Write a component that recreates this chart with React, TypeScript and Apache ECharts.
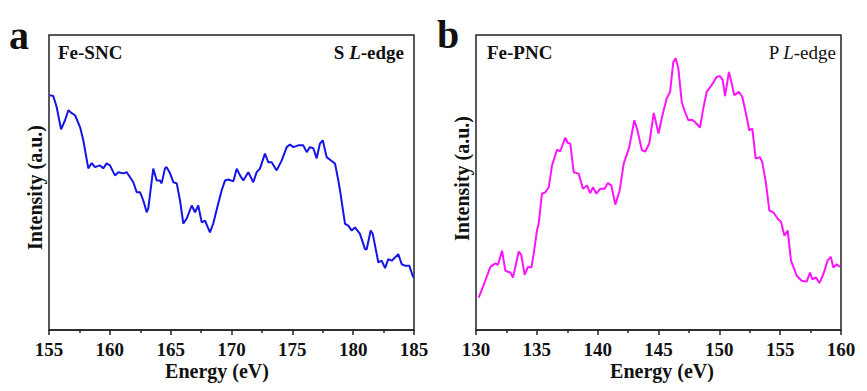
import React, { useEffect, useRef } from "react";
import * as echarts from "echarts";

// Panel a: Fe-SNC, S L-edge
const energyA = [155.08,155.35,155.63,155.99,156.32,156.59,156.87,157.14,157.55,157.82,158.23,158.51,158.78,159.19,159.46,159.74,160.01,160.42,160.70,161.11,161.39,161.66,161.93,162.21,162.48,162.75,163.03,163.16,163.57,163.85,164.12,164.26,164.53,164.67,164.95,165.22,165.50,165.77,166.04,166.32,166.73,167.00,167.27,167.55,167.82,168.23,168.50,168.91,169.19,169.47,169.74,170.15,170.43,170.70,170.97,171.38,171.79,172.07,172.34,172.75,173.02,173.30,173.71,174.13,174.54,174.81,175.08,175.49,175.90,176.18,176.45,176.72,177.00,177.27,177.50,177.82,178.10,178.51,178.78,178.92,179.33,179.60,179.88,180.15,180.56,180.97,181.11,181.44,181.61,182.07,182.34,182.62,182.89,183.17,183.71,183.99,184.26,184.61,184.94];
const intensityA = [79.6,79.3,75.6,68.0,71.1,74.5,73.5,72.8,68.8,64.3,54.8,56.6,55.2,55.8,54.8,56.5,55.8,52.4,53.5,53.1,53.5,51.8,50.1,46.7,46.7,43.9,39.9,41.2,54.7,50.7,50.7,49.7,54.8,55.2,53.1,50.1,49.7,43.9,36.1,37.8,42.2,39.9,42.2,36.5,37.1,33.1,36.1,42.9,47.3,50.7,51.0,50.4,54.7,52.4,50.7,53.5,50.1,53.5,54.7,59.8,56.9,56.9,54.1,57.5,62.0,62.9,62.0,62.6,62.6,60.3,62.0,61.6,58.2,63.2,64.3,58.6,57.7,56.4,50.7,47.3,36.0,35.4,33.7,34.8,32.6,27.4,27.4,33.7,32.6,22.9,23.5,21.0,24.0,23.5,25.7,22.3,21.8,21.8,17.8];

// Panel b: Fe-PNC, P L-edge
const energyB = [130.22,130.49,130.76,131.18,131.59,131.81,132.14,132.41,132.82,133.04,133.51,133.72,134.00,134.27,134.55,134.74,135.01,135.15,135.42,135.70,135.98,136.25,136.66,136.93,137.34,137.54,137.75,138.03,138.44,138.79,139.12,139.39,139.62,139.89,140.22,140.58,140.82,141.12,141.45,141.81,142.14,142.60,143.01,143.23,143.64,143.92,144.24,144.61,145.00,145.29,145.67,145.95,146.22,146.41,146.63,146.91,147.18,147.45,147.73,148.00,148.41,148.68,148.96,149.37,149.78,150.05,150.28,150.47,150.79,151.02,151.23,151.62,151.89,152.25,152.46,152.71,152.99,153.34,153.53,153.84,154.11,154.44,154.80,155.07,155.34,155.62,155.89,156.36,156.77,157.18,157.45,157.64,157.95,158.22,158.55,158.91,159.16,159.37,159.65,159.92];
const intensityB = [11.0,13.8,16.7,21.4,22.6,22.1,26.9,20.1,19.5,17.8,26.6,25.5,18.7,21.4,21.2,25.7,33.7,36.0,46.2,46.7,48.4,55.8,61.1,60.6,65.2,63.4,63.2,53.5,53.0,47.9,49.0,46.4,48.4,46.2,47.9,47.9,49.8,49.0,42.5,47.3,56.4,62.0,71.1,68.3,60.9,60.5,63.2,73.6,66.6,72.2,78.5,80.7,90.9,92.1,88.7,77.3,73.9,71.1,71.3,70.5,68.6,75.1,80.7,83.0,85.8,86.1,84.7,79.3,87.5,83.6,79.6,80.7,79.0,72.2,67.7,68.3,58.1,58.6,56.9,49.6,40.5,39.9,37.7,36.7,32.0,33.7,23.5,18.4,16.7,16.4,19.5,17.2,17.8,15.9,18.9,23.7,24.8,21.2,22.3,21.4];

const rangeA = [155, 185];
const rangeB = [130, 160];

const FONT = "Liberation Serif, Times New Roman, serif";
const FRAME = "#222";

export default function App() {
  const ref = useRef<HTMLDivElement>(null);
  useEffect(() => {
    document.body.style.margin = "0";
    const chart = echarts.init(ref.current!, null, { renderer: "svg" });
    const xAxisBase = (idx: number, range: number[]) => ({
      type: "value",
      gridIndex: idx,
      min: range[0],
      max: range[1],
      interval: 5,
      axisLine: { show: true, lineStyle: { color: FRAME, width: 1.5 } },
      axisTick: { show: true, length: 5, lineStyle: { color: FRAME, width: 1.5 } },
      minorTick: { show: true, splitNumber: 2, length: 3, lineStyle: { color: FRAME, width: 1.5 } },
      axisLabel: {
        margin: 10,
        fontFamily: FONT,
        fontWeight: "bold",
        fontSize: 19,
        color: "#111",
      },
      splitLine: { show: false },
    });
    const yAxisBase = (idx: number) => ({
      type: "value",
      gridIndex: idx,
      min: 0,
      max: 100,
      axisLine: { show: false },
      axisTick: { show: false },
      axisLabel: { show: false },
      splitLine: { show: false },
    });
    const textStyle = (extra: any) => ({
      fontFamily: FONT,
      fill: "#111",
      ...extra,
    });
    chart.setOption({
      animation: false,
      backgroundColor: "#fff",
      grid: [
        { left: 49, top: 35, width: 365, height: 295, show: true, borderColor: FRAME, borderWidth: 1.5 },
        { left: 476, top: 35, width: 365, height: 295, show: true, borderColor: FRAME, borderWidth: 1.5 },
      ],
      xAxis: [xAxisBase(0, rangeA), xAxisBase(1, rangeB)],
      yAxis: [yAxisBase(0), yAxisBase(1)],
      series: [
        {
          type: "line",
          xAxisIndex: 0,
          yAxisIndex: 0,
          data: energyA.map((x, i) => [x, intensityA[i]]),
          showSymbol: false,
          lineStyle: { color: "#1414e6", width: 2 },
        },
        {
          type: "line",
          xAxisIndex: 1,
          yAxisIndex: 1,
          data: energyB.map((x, i) => [x, intensityB[i]]),
          showSymbol: false,
          lineStyle: { color: "#ff14ff", width: 2 },
        },
      ],
      graphic: [
        { type: "text", x: 9, y: 35.5, style: textStyle({ text: "a", fontSize: 40, fontWeight: "bold", verticalAlign: "middle" }) },
        { type: "text", x: 437, y: 34.5, style: textStyle({ text: "b", fontSize: 40, fontWeight: "bold", verticalAlign: "middle" }) },
        { type: "text", x: 58, y: 52.5, style: textStyle({ text: "Fe-SNC", fontSize: 19, fontWeight: "bold", verticalAlign: "middle" }) },
        { type: "text", x: 487, y: 52, style: textStyle({ text: "Fe-PNC", fontSize: 19, fontWeight: "bold", verticalAlign: "middle" }) },
        {
          type: "text",
          x: 404,
          y: 52.5,
          style: textStyle({
            text: "{b|S }{bi|L}{b|-edge}",
            align: "right",
            verticalAlign: "middle",
            rich: {
              b: { fontFamily: FONT, fontSize: 19, fontWeight: "bold", color: "#111" },
              bi: { fontFamily: FONT, fontSize: 19, fontWeight: "bold", fontStyle: "italic", color: "#111" },
            },
          }),
        },
        {
          type: "text",
          x: 836,
          y: 52,
          style: textStyle({
            text: "{r|P }{i|L}{r|-edge}",
            align: "right",
            verticalAlign: "middle",
            rich: {
              r: { fontFamily: FONT, fontSize: 19, color: "#111" },
              i: { fontFamily: FONT, fontSize: 19, fontStyle: "italic", color: "#111" },
            },
          }),
        },
        { type: "text", x: 217, y: 371, style: textStyle({ text: "Energy (eV)", fontSize: 20, fontWeight: "bold", align: "center", verticalAlign: "middle" }) },
        { type: "text", x: 662, y: 371, style: textStyle({ text: "Energy (eV)", fontSize: 20, fontWeight: "bold", align: "center", verticalAlign: "middle" }) },
        { type: "text", x: 35, y: 187.5, rotation: Math.PI / 2, style: textStyle({ text: "Intensity (a.u.)", fontSize: 20, fontWeight: "bold", align: "center", verticalAlign: "middle" }) },
        { type: "text", x: 462, y: 178.5, rotation: Math.PI / 2, style: textStyle({ text: "Intensity (a.u.)", fontSize: 20, fontWeight: "bold", align: "center", verticalAlign: "middle" }) },
      ],
    });
    return () => chart.dispose();
  }, []);
  return <div ref={ref} style={{ width: 867, height: 391 }} />;
}
